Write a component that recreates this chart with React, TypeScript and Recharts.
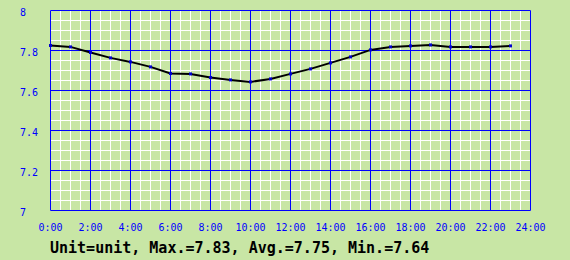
import React from 'react';
import { LineChart, Line, XAxis, YAxis, ReferenceLine } from 'recharts';

const hours = [0, 1, 2, 3, 4, 5, 6, 7, 8, 9, 10, 11, 12, 13, 14, 15, 16, 17, 18, 19, 20, 21, 22, 23];
const values = [7.825, 7.818, 7.79, 7.763, 7.743, 7.718, 7.685, 7.683, 7.665, 7.653, 7.643, 7.658, 7.683, 7.708, 7.738, 7.768, 7.803, 7.818, 7.823, 7.828, 7.818, 7.818, 7.818, 7.823];
const xTicks = [0, 2, 4, 6, 8, 10, 12, 14, 16, 18, 20, 22, 24];
const yTicks = [7, 7.2, 7.4, 7.6, 7.8, 8];
const minorX = Array.from({ length: 49 }, (_, i) => i * 0.5);
const minorY = Array.from({ length: 21 }, (_, i) => 7 + i * 0.05);
const summary = 'Unit=unit, Max.=7.83, Avg.=7.75, Min.=7.64';

const data = hours.map((h, i) => ({ h, v: values[i] }));

const BG = '#c8e6a5';
const BLUE = '#0000ff';
const FONT = '"DejaVu Sans Mono", monospace';

const YTick = (props: any) => {
  const { y, payload } = props;
  const label = String(Number(Number(payload.value).toFixed(1)));
  return (
    <text x={20} y={y + 5} fill={BLUE} fontFamily={FONT} fontSize={10} textAnchor="start">
      {label}
    </text>
  );
};

const XTick = (props: any) => {
  const { x, payload } = props;
  return (
    <text x={x} y={231} fill={BLUE} fontFamily={FONT} fontSize={10} textAnchor="middle">
      {`${payload.value}:00`}
    </text>
  );
};

const SquareDot = (props: any) => {
  const { cx, cy, index } = props;
  if (cx == null || cy == null) return null;
  return <rect key={`d${index}`} x={cx - 1.5} y={cy - 1.5} width={3} height={3} fill="#0000cc" />;
};

export default function App() {
  return (
    <div style={{ position: 'absolute', left: 0, top: 0, width: 570, height: 260, background: BG }}>
      <LineChart
        width={570}
        height={260}
        data={data}
        margin={{ top: 10.5, right: 39.5, bottom: 0, left: 20.5 }}
      >
        <XAxis
          dataKey="h"
          type="number"
          domain={[0, 24]}
          ticks={xTicks}
          axisLine={false}
          tickLine={false}
          tick={<XTick />}
          height={49.5}
          interval={0}
        />
        <YAxis
          type="number"
          domain={[7, 8]}
          ticks={yTicks}
          axisLine={false}
          tickLine={false}
          tick={<YTick />}
          width={30}
          interval={0}
        />
        {minorX.map((x) => (
          <ReferenceLine key={`mx${x}`} x={x} stroke="#ffffff" strokeWidth={1} />
        ))}
        {minorY.map((y) => (
          <ReferenceLine key={`my${y}`} y={y} stroke="#ffffff" strokeWidth={1} />
        ))}
        {xTicks.map((x) => (
          <ReferenceLine key={`Mx${x}`} x={x} stroke={BLUE} strokeWidth={1} />
        ))}
        {yTicks.map((y) => (
          <ReferenceLine key={`My${y}`} y={y} stroke={BLUE} strokeWidth={1} />
        ))}
        <Line
          type="linear"
          dataKey="v"
          stroke="#000000"
          strokeWidth={2}
          dot={<SquareDot />}
          activeDot={false}
          isAnimationActive={false}
        />
      </LineChart>
      <svg width={570} height={260} style={{ position: 'absolute', left: 0, top: 0, pointerEvents: 'none' }}>
        <text x={50} y={253} fill="#000000" fontFamily={FONT} fontSize={15} fontWeight="bold">
          {summary}
        </text>
      </svg>
    </div>
  );
}
